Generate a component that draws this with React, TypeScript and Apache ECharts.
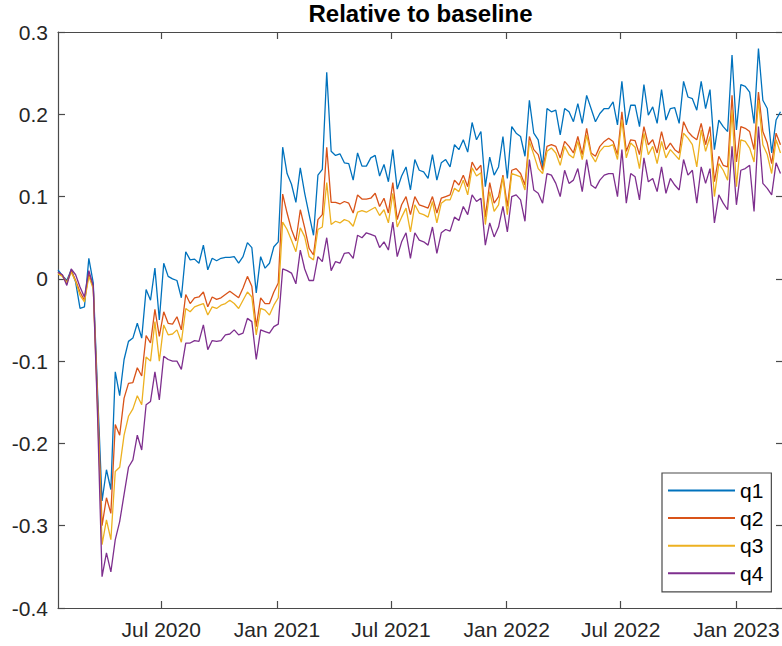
import React, { useEffect, useRef } from 'react';
import * as echarts from 'echarts';

// ---------- data ----------
const seriesNames = ['q1', 'q2', 'q3', 'q4'];
const seriesColors = ['#0072BD', '#D95319', '#EDB120', '#7E2F8E'];
const startDate = '2020-01-19'; // first weekly observation
const stepDays = 7;
const xMinDate = '2020-01-19';
const xMaxDate = '2023-03-16';

const xTickDates = ['2020-07-01', '2021-01-01', '2021-07-01', '2022-01-01', '2022-07-01', '2023-01-01'];
const xTickLabels = ['Jul 2020', 'Jan 2021', 'Jul 2021', 'Jan 2022', 'Jul 2022', 'Jan 2023'];

const yMin = -0.4;
const yMax = 0.3;
const yInterval = 0.1;

const q1 = [
  0.011, 0.004, -0.002, 0.011, -0.004, -0.036, -0.034, 0.025, -0.005, -0.14,
  -0.27, -0.232, -0.256, -0.113, -0.142, -0.098, -0.076, -0.072, -0.054, -0.072,
  -0.013, -0.026, 0.013, -0.05, 0.019, 0.003, 0.0, -0.002, -0.023, 0.033,
  0.023, 0.024, 0.019, 0.041, 0.011, 0.025, 0.022, 0.025, 0.026, 0.026,
  0.027, 0.019, 0.027, 0.044, 0.038, -0.017, 0.027, 0.013, 0.019, 0.039,
  0.045, 0.16, 0.128, 0.115, 0.093, 0.135, 0.104, 0.078, 0.053, 0.126,
  0.133, 0.251, 0.155, 0.15, 0.152, 0.141, 0.14, 0.12, 0.153, 0.137,
  0.137, 0.147, 0.15, 0.125, 0.139, 0.118, 0.157, 0.109, 0.125, 0.136,
  0.108, 0.145, 0.132, 0.13, 0.122, 0.151, 0.12, 0.141, 0.145, 0.136,
  0.163, 0.157, 0.169, 0.154, 0.19, 0.169, 0.179, 0.112, 0.148, 0.126,
  0.136, 0.173, 0.122, 0.185, 0.177, 0.173, 0.149, 0.217, 0.177, 0.169,
  0.136, 0.207, 0.203, 0.205, 0.175, 0.207, 0.203, 0.191, 0.213, 0.189,
  0.223, 0.207, 0.191, 0.201, 0.207, 0.207, 0.215, 0.187, 0.24, 0.187,
  0.211, 0.211, 0.185, 0.236, 0.199, 0.209, 0.189, 0.23, 0.193, 0.207,
  0.208, 0.189, 0.24, 0.221, 0.219, 0.205, 0.24, 0.207, 0.23, 0.157,
  0.193, 0.185, 0.179, 0.272, 0.181, 0.236, 0.234, 0.227, 0.189, 0.28,
  0.217, 0.207, 0.153, 0.193, 0.203,
];

const q2 = [
  0.008, 0.004, -0.004, 0.01, -0.002, -0.016, -0.026, 0.006, -0.01, -0.15,
  -0.3, -0.266, -0.285, -0.177, -0.19, -0.145, -0.127, -0.126, -0.108, -0.118,
  -0.069, -0.078, -0.037, -0.07, -0.04, -0.054, -0.055, -0.046, -0.062, -0.019,
  -0.03, -0.023, -0.022, -0.016, -0.034, -0.022, -0.025, -0.023, -0.019, -0.015,
  -0.019, -0.023, -0.011, 0.003, -0.009, -0.058, -0.023, -0.03, -0.03, -0.016,
  -0.005, 0.103, 0.08, 0.06, 0.046, 0.084, 0.062, 0.037, 0.029, 0.072,
  0.078, 0.16, 0.093, 0.093, 0.091, 0.094, 0.092, 0.08, 0.102, 0.097,
  0.097, 0.098, 0.104, 0.088, 0.098, 0.08, 0.117, 0.072, 0.09, 0.1,
  0.078, 0.1, 0.09, 0.088, 0.086, 0.1, 0.08, 0.098, 0.1, 0.102,
  0.12, 0.114, 0.126, 0.112, 0.142, 0.132, 0.138, 0.075, 0.117, 0.092,
  0.1, 0.126, 0.088, 0.132, 0.134, 0.128, 0.114, 0.173, 0.157, 0.151,
  0.132, 0.161, 0.163, 0.161, 0.147, 0.167, 0.161, 0.153, 0.173, 0.151,
  0.183, 0.153, 0.149, 0.161, 0.167, 0.171, 0.167, 0.151, 0.203, 0.155,
  0.169, 0.168, 0.151, 0.185, 0.163, 0.169, 0.153, 0.179, 0.157, 0.165,
  0.157, 0.153, 0.191, 0.179, 0.173, 0.169, 0.189, 0.163, 0.185, 0.118,
  0.149, 0.138, 0.136, 0.223, 0.142, 0.185, 0.183, 0.179, 0.157, 0.227,
  0.179, 0.165, 0.14, 0.177, 0.163,
];

const q3 = [
  0.006, 0.003, -0.005, 0.008, -0.003, -0.02, -0.028, 0.003, -0.012, -0.16,
  -0.323, -0.293, -0.317, -0.234, -0.229, -0.19, -0.167, -0.158, -0.142, -0.153,
  -0.095, -0.1, -0.052, -0.1, -0.056, -0.068, -0.067, -0.062, -0.077, -0.036,
  -0.04, -0.034, -0.032, -0.03, -0.044, -0.034, -0.036, -0.032, -0.03, -0.026,
  -0.03, -0.036, -0.026, -0.016, -0.022, -0.068, -0.036, -0.038, -0.044, -0.032,
  -0.023, 0.069, 0.06, 0.047, 0.033, 0.062, 0.051, 0.027, 0.023, 0.06,
  0.063, 0.117, 0.066, 0.07, 0.068, 0.072, 0.07, 0.064, 0.081, 0.083,
  0.081, 0.084, 0.087, 0.077, 0.084, 0.068, 0.104, 0.063, 0.075, 0.086,
  0.057, 0.09, 0.08, 0.078, 0.075, 0.094, 0.068, 0.092, 0.096, 0.096,
  0.11, 0.106, 0.12, 0.102, 0.135, 0.125, 0.129, 0.066, 0.106, 0.082,
  0.09, 0.124, 0.078, 0.128, 0.126, 0.124, 0.108, 0.167, 0.151, 0.134,
  0.128, 0.155, 0.159, 0.153, 0.138, 0.161, 0.151, 0.147, 0.167, 0.145,
  0.175, 0.151, 0.142, 0.155, 0.161, 0.161, 0.163, 0.145, 0.193, 0.147,
  0.165, 0.16, 0.134, 0.177, 0.151, 0.161, 0.14, 0.167, 0.147, 0.157,
  0.151, 0.145, 0.177, 0.171, 0.163, 0.136, 0.181, 0.155, 0.173, 0.1,
  0.14, 0.132, 0.12, 0.205, 0.112, 0.169, 0.167, 0.159, 0.142, 0.217,
  0.163, 0.151, 0.128, 0.169, 0.153,
];

const q4 = [
  0.008, 0.005, -0.008, 0.012, 0.005, -0.01, -0.022, 0.01, -0.008, -0.17,
  -0.362, -0.333, -0.356, -0.317, -0.295, -0.262, -0.229, -0.22, -0.19, -0.208,
  -0.153, -0.149, -0.113, -0.147, -0.094, -0.098, -0.1, -0.1, -0.11, -0.078,
  -0.078, -0.075, -0.076, -0.056, -0.086, -0.075, -0.076, -0.075, -0.068, -0.067,
  -0.062, -0.068, -0.066, -0.048, -0.052, -0.098, -0.062, -0.064, -0.066, -0.058,
  -0.055, 0.012, 0.01, 0.007, -0.006, 0.035, 0.012, -0.002, -0.002, 0.027,
  0.021, 0.05, 0.01, 0.021, 0.019, 0.031, 0.032, 0.025, 0.053, 0.05,
  0.056, 0.054, 0.052, 0.038, 0.045, 0.035, 0.069, 0.027, 0.045, 0.056,
  0.025, 0.056, 0.047, 0.045, 0.041, 0.063, 0.031, 0.056, 0.06, 0.058,
  0.075, 0.071, 0.088, 0.078, 0.102, 0.094, 0.098, 0.041, 0.068, 0.051,
  0.063, 0.088, 0.057, 0.1, 0.102, 0.096, 0.07, 0.145, 0.108, 0.104,
  0.092, 0.128, 0.126, 0.116, 0.1, 0.132, 0.116, 0.12, 0.134, 0.106,
  0.145, 0.114, 0.11, 0.12, 0.126, 0.128, 0.128, 0.1, 0.157, 0.092,
  0.128, 0.124, 0.096, 0.147, 0.118, 0.122, 0.106, 0.136, 0.104, 0.122,
  0.114, 0.108, 0.145, 0.126, 0.132, 0.092, 0.136, 0.116, 0.134, 0.068,
  0.102, 0.092, 0.084, 0.161, 0.09, 0.132, 0.134, 0.138, 0.082, 0.185,
  0.116, 0.11, 0.102, 0.141, 0.128,
];

const seriesValues = [q1, q2, q3, q4];

// ---------- helpers ----------
function parseDate(s: string, addDays = 0): number {
  const [y, m, d] = s.split('-').map(Number);
  return new Date(y, m - 1, d + addDays).getTime();
}

const FONT = '"Liberation Sans", Arial, Helvetica, sans-serif';
const AXIS_COLOR = '#262626';
const AXIS_LINE = '#4a4a4a';

export default function App() {
  const ref = useRef<HTMLDivElement>(null);

  useEffect(() => {
    if (!ref.current) return;
    const chart = echarts.init(ref.current, undefined, { renderer: 'svg' });

    const tickTimes = xTickDates.map((d) => parseDate(d));
    const xMin = parseDate(xMinDate);
    const xMax = parseDate(xMaxDate);

    const series = seriesNames.map((name, si) => ({
      name,
      type: 'line',
      xAxisIndex: 0,
      yAxisIndex: 0,
      symbol: 'none',
      showSymbol: false,
      data: seriesValues[si].map((v, i) => [parseDate(startDate, i * stepDays), v]),
      lineStyle: { width: 1.3, color: seriesColors[si] },
      itemStyle: { color: seriesColors[si] },
      emphasis: { disabled: true },
    }));

    const tickStyle = { color: AXIS_LINE, width: 1.2 };

    const option: any = {
      animation: false,
      backgroundColor: '#ffffff',
      textStyle: { fontFamily: FONT },
      grid: {
        left: 58,
        right: -1,
        top: 32,
        bottom: 38,
        containLabel: false,
        outerBoundsMode: 'none',
      },
      graphic: [
        {
          type: 'text',
          x: 420.5,
          y: 13,
          style: {
            text: 'Relative to baseline',
            font: `bold 24px ${FONT}`,
            fill: '#000000',
            textAlign: 'center',
            textVerticalAlign: 'middle',
          },
        },
      ],
      legend: {
        data: seriesNames,
        orient: 'vertical',
        left: 662,
        top: 473,
        padding: [7, 8, 8, 6],
        itemGap: 6.6,
        itemWidth: 67,
        itemHeight: 2,
        icon: 'rect',
        borderColor: AXIS_LINE,
        borderWidth: 1.2,
        borderRadius: 0,
        backgroundColor: '#ffffff',
        textStyle: { fontSize: 21, color: '#000000', lineHeight: 21, fontFamily: FONT },
      },
      xAxis: [
        {
          type: 'value',
          position: 'bottom',
          min: xMin,
          max: xMax,
          axisLine: { show: true, onZero: false, lineStyle: tickStyle },
          axisTick: { show: true, inside: true, length: 7, customValues: tickTimes, lineStyle: tickStyle },
          axisLabel: {
            show: true,
            customValues: tickTimes,
            formatter: (v: number) => {
              const idx = tickTimes.indexOf(v);
              return idx >= 0 ? xTickLabels[idx] : '';
            },
            fontSize: 21,
            color: AXIS_COLOR,
            margin: 11,
            fontFamily: FONT,
            hideOverlap: false,
          },
          splitLine: { show: false },
          minorTick: { show: false },
        },
        {
          type: 'value',
          position: 'top',
          min: xMin,
          max: xMax,
          axisLine: { show: true, onZero: false, lineStyle: tickStyle },
          axisTick: { show: true, inside: true, length: 7, customValues: tickTimes, lineStyle: tickStyle },
          axisLabel: { show: false },
          splitLine: { show: false },
        },
      ],
      yAxis: [
        {
          type: 'value',
          position: 'left',
          min: yMin,
          max: yMax,
          interval: yInterval,
          axisLine: { show: true, onZero: false, lineStyle: tickStyle },
          axisTick: { show: true, inside: true, length: 7, lineStyle: tickStyle },
          axisLabel: {
            fontSize: 21,
            color: AXIS_COLOR,
            margin: 10,
            fontFamily: FONT,
            formatter: (v: number) => {
              const r = Math.round(v * 10) / 10;
              return r === 0 ? '0' : String(r);
            },
          },
          splitLine: { show: false },
        },
        {
          type: 'value',
          position: 'right',
          min: yMin,
          max: yMax,
          interval: yInterval,
          axisLine: { show: true, onZero: false, lineStyle: tickStyle },
          axisTick: { show: true, inside: true, length: 7, lineStyle: tickStyle },
          axisLabel: { show: false },
          splitLine: { show: false },
        },
      ],
      series,
    };

    chart.setOption(option);
    return () => {
      chart.dispose();
    };
  }, []);

  return (
    <div
      ref={ref}
      style={{ position: 'absolute', left: 0, top: 0, width: 782, height: 646, background: '#fff' }}
    />
  );
}
